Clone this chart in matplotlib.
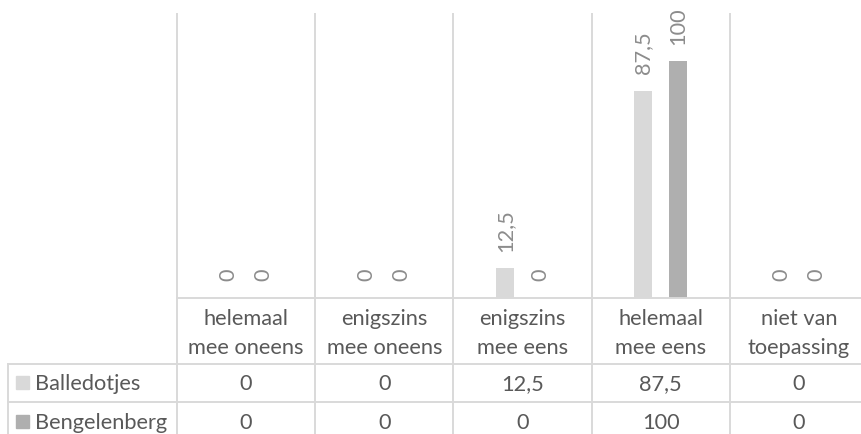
import matplotlib.pyplot as plt
import matplotlib.transforms as mtransforms
from matplotlib.lines import Line2D
from matplotlib.patches import Rectangle

plt.rcParams['font.family'] = ['Lato', 'DejaVu Sans']

categories = [['helemaal', 'mee oneens'], ['enigszins', 'mee oneens'],
              ['enigszins', 'mee eens'], ['helemaal', 'mee eens'],
              ['niet van', 'toepassing']]
series = ['Balledotjes', 'Bengelenberg']
balledotjes = [0, 0, 12.5, 87.5, 0]
bengelenberg = [0, 0, 0, 100, 0]
colors = ['#d9d9d9', '#afafaf']

W, H = 861, 434
fig = plt.figure(figsize=(W / 100, H / 100), dpi=100)

# plot area in pixels: left 177, top 14, baseline 298, one column = 138 px
left, top, base, colw = 177, 14, 298, 138.2
ax = fig.add_axes([left / W, 1 - base / H, 5 * colw / W, (base - top) / H])
ax.set_xlim(-0.5, 4.5)
ax.set_ylim(0, 120)
ax.axis('off')

grid = '#d9d9d9'
text_col = '#595959'
label_col = '#8c8c8c'
fs = 15.7
off = 0.127
bw = 0.13


def fy(py):
    return 1 - py / H


def fx(px):
    return px / W


x = list(range(len(categories)))
for vals, dx, c in [(balledotjes, -off, colors[0]), (bengelenberg, off, colors[1])]:
    bars = ax.bar([i + dx for i in x], vals, width=bw, color=c)
    for b, v in zip(bars, vals):
        ax.annotate(f'{v:g}'.replace('.', ','),
                    (b.get_x() + b.get_width() / 2, v),
                    xytext=(0, 12), textcoords='offset points',
                    rotation=90, ha='center', va='bottom',
                    fontsize=fs, color=label_col)

# table grid
blend = mtransforms.blended_transform_factory(ax.transData, fig.transFigure)
for xb in [i - 0.5 for i in range(len(categories) + 1)]:
    fig.add_artist(Line2D([xb, xb], [fy(top), fy(H + 10)], color=grid, lw=1.4,
                          transform=blend))
fig.add_artist(Line2D([-0.5, 4.5], [fy(base), fy(base)], color=grid, lw=1.4,
                      transform=blend))
for py in [364, 402]:
    fig.add_artist(Line2D([fx(8), 1.1], [fy(py), fy(py)], color=grid, lw=1.4,
                          transform=fig.transFigure))
fig.add_artist(Line2D([fx(8), fx(8)], [fy(364), fy(H + 10)], color=grid, lw=1.4,
                      transform=fig.transFigure))

# category headers
for i, (l1, l2) in enumerate(categories):
    fig.text(i, fy(325), l1, transform=blend, ha='center', va='baseline',
             fontsize=fs, color=text_col)
    fig.text(i, fy(354), l2, transform=blend, ha='center', va='baseline',
             fontsize=fs, color=text_col)

# data rows with legend keys
for r, (name, vals, c) in enumerate(zip(series, [balledotjes, bengelenberg], colors)):
    baseline = 390 + r * 39
    fig.add_artist(Rectangle((fx(16), fy(baseline - 1)), 13 / W, 13 / H,
                             color=c, transform=fig.transFigure))
    fig.text(fx(35), fy(baseline), name, ha='left', va='baseline',
             fontsize=fs, color=text_col)
    for i, v in enumerate(vals):
        fig.text(i, fy(baseline), f'{v:g}'.replace('.', ','), transform=blend,
                 ha='center', va='baseline', fontsize=fs, color=text_col)

fig.savefig('out.png', dpi=100)
